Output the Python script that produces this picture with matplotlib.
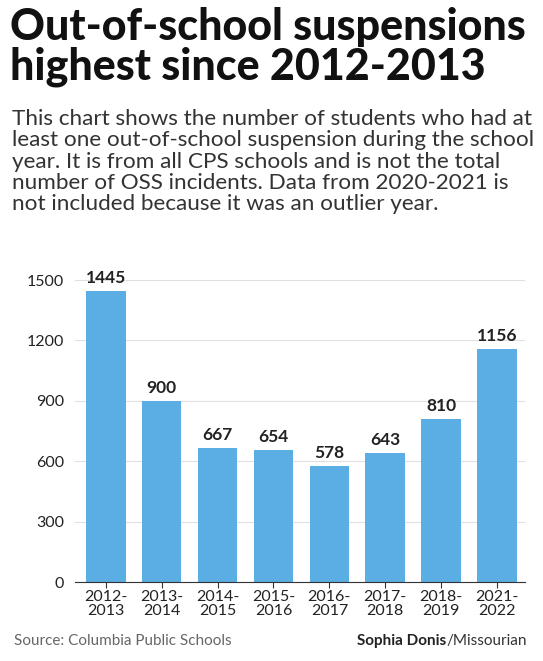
import matplotlib
matplotlib.use("Agg")
import matplotlib.pyplot as plt

years = ["2012-\n2013","2013-\n2014","2014-\n2015","2015-\n2016","2016-\n2017","2017-\n2018","2018-\n2019","2021-\n2022"]
values = [1445, 900, 667, 654, 578, 643, 810, 1156]
yticks = [0, 300, 600, 900, 1200, 1500]

plt.rcParams['font.family'] = ['Lato', 'DejaVu Sans']
fig = plt.figure(figsize=(5.43, 6.61), dpi=100)
fig.text(0.018, 0.99, "Out-of-school suspensions\nhighest since 2012-2013", fontsize=31, fontweight='black',
         va='top', ha='left', linespacing=1.0, color='#111111')
fig.text(0.022, 0.835, "This chart shows the number of students who had at\nleast one out-of-school suspension during the school\nyear. It is from all CPS schools and is not the total\nnumber of OSS incidents. Data from 2020-2021 is\nnot included because it was an outlier year.",
         fontsize=16.2, va='top', ha='left', linespacing=1.08, color='#333333')

ax = fig.add_axes([0.138, 0.1195, 0.829, 0.475])
x = range(len(values))
ax.bar(x, values, width=0.71, color='#5aaee3', zorder=2)
for i, v in zip(x, values):
    ax.text(i, v + 25, str(v), ha='center', va='bottom', fontsize=12.5, fontweight='bold', color='#222222')
ax.set_ylim(0, 1560)
ax.set_xlim(-0.55, 7.5)
ax.set_yticks(yticks)
ax.set_yticklabels([str(t) for t in yticks], fontsize=11.5, color='#222222')
ax.set_xticks(list(x))
ax.set_xticklabels(years, fontsize=11.5, color='#222222', linespacing=1.0)
ax.grid(axis='y', color='#e0e0e0', linewidth=0.8, zorder=0)
for s in ['top', 'right', 'left']:
    ax.spines[s].set_visible(False)
ax.spines['bottom'].set_color('#333333')
ax.tick_params(axis='y', length=0, pad=8)
ax.tick_params(axis='x', length=4, color='#333333', pad=2)

fig.text(0.025, 0.02, "Source: Columbia Public Schools", fontsize=11, color='#666666', ha='left', va='bottom')
s = fig.text(0.97, 0.02, "Sophia Donis", fontsize=11, color='#222222', ha='right', va='bottom', fontweight='bold')
t = fig.text(0.97, 0.02, "/Missourian", fontsize=11, color='#333333', ha='right', va='bottom')
fig.canvas.draw()
bb = t.get_window_extent()
s.set_x(bb.x0 / fig.bbox.width)
fig.savefig("out.png", dpi=100, facecolor='white')
